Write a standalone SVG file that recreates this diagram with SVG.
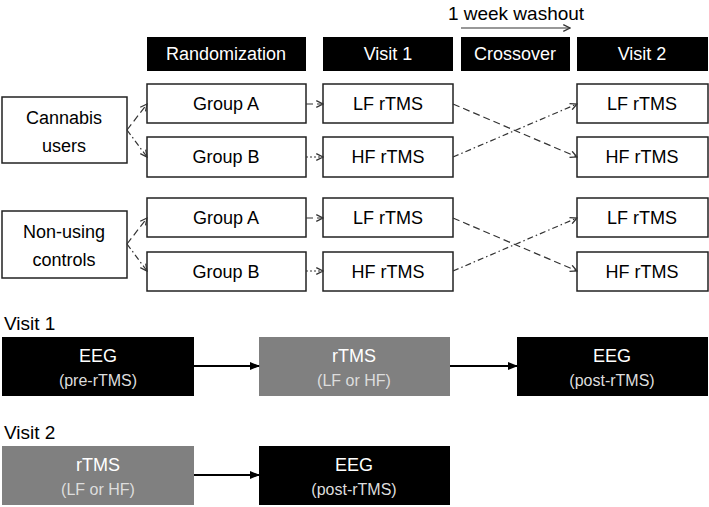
<svg xmlns="http://www.w3.org/2000/svg" width="709" height="507" viewBox="0 0 709 507">
<defs>
<style>
.b{fill:#fff;stroke:#222;stroke-width:1.5}
.h{fill:#000}
.g{fill:#808080}
text{font-family:"Liberation Sans",Arial,sans-serif;font-size:18px;text-anchor:middle}
.w{fill:#fff}
.s{fill:#ddd;font-size:16px}
.c{stroke:#333;stroke-width:1.2;fill:none}
.da{stroke-dasharray:7,4}
.dd{stroke-dasharray:6,3,1.5,3}
.dt{stroke-dasharray:2,2}
</style>
<marker id="a" viewBox="0 0 10 10" refX="9" refY="5" markerWidth="7" markerHeight="7" orient="auto"><path d="M1,1 L9,5 L1,9" fill="none" stroke="#333" stroke-width="1.5"/></marker>
<marker id="f" viewBox="0 0 10 10" refX="9" refY="5" markerWidth="5" markerHeight="5" orient="auto"><path d="M0,1 L10,5 L0,9z" fill="#000"/></marker>
</defs>
<text x="516" y="20" style="font-size:19px">1 week washout</text>
<g id="headers">
<rect class="h" x="147" y="37" width="159" height="34"/><text class="w" x="226" y="60">Randomization</text>
<rect class="h" x="323" y="37" width="130" height="34"/><text class="w" x="388" y="60">Visit 1</text>
<rect class="h" x="461" y="37" width="109" height="34"/><text class="w" x="515" y="60">Crossover</text>
<rect class="h" x="577" y="37" width="131" height="34"/><text class="w" x="642" y="60">Visit 2</text>
</g>
<g id="cannabis"><rect class="b" x="2" y="97" width="125" height="66"/><text x="64" y="124">Cannabis</text><text x="64" y="152">users</text></g>
<g id="nonusing"><rect class="b" x="2" y="211" width="125" height="67"/><text x="64" y="238">Non-using</text><text x="64" y="266">controls</text></g>
<g id="ga1"><rect class="b" x="147" y="84" width="159" height="39"/><text x="226" y="110">Group A</text></g>
<g id="gb1"><rect class="b" x="147" y="137" width="159" height="40"/><text x="226" y="163">Group B</text></g>
<g id="ga2"><rect class="b" x="147" y="198" width="159" height="39"/><text x="226" y="224">Group A</text></g>
<g id="gb2"><rect class="b" x="147" y="252" width="159" height="39"/><text x="226" y="278">Group B</text></g>
<g id="v1a"><rect class="b" x="323" y="84" width="130" height="39"/><text x="388" y="110">LF rTMS</text></g>
<g id="v1b"><rect class="b" x="323" y="137" width="130" height="40"/><text x="388" y="163">HF rTMS</text></g>
<g id="v1c"><rect class="b" x="323" y="198" width="130" height="39"/><text x="388" y="224">LF rTMS</text></g>
<g id="v1d"><rect class="b" x="323" y="252" width="130" height="39"/><text x="388" y="278">HF rTMS</text></g>
<g id="v2a"><rect class="b" x="577" y="84" width="131" height="39"/><text x="642" y="110">LF rTMS</text></g>
<g id="v2b"><rect class="b" x="577" y="137" width="131" height="40"/><text x="642" y="163">HF rTMS</text></g>
<g id="v2c"><rect class="b" x="577" y="198" width="131" height="39"/><text x="642" y="224">LF rTMS</text></g>
<g id="v2d"><rect class="b" x="577" y="252" width="131" height="39"/><text x="642" y="278">HF rTMS</text></g>
<text x="4" y="330" style="text-anchor:start;font-size:19px">Visit 1</text>
<text x="4" y="439" style="text-anchor:start;font-size:19px">Visit 2</text>
<g id="eeg1"><rect class="h" x="2" y="337" width="192" height="59"/><text class="w" x="98" y="362">EEG</text><text class="s" x="98" y="386">(pre-rTMS)</text></g>
<g id="rtms1"><rect class="g" x="259" y="337" width="191" height="59"/><text class="w" x="354" y="362">rTMS</text><text class="s" x="354" y="386">(LF or HF)</text></g>
<g id="eeg2"><rect class="h" x="517" y="337" width="191" height="59"/><text class="w" x="612" y="362">EEG</text><text class="s" x="612" y="386">(post-rTMS)</text></g>
<g id="rtms2"><rect class="g" x="2" y="446" width="192" height="59"/><text class="w" x="98" y="471">rTMS</text><text class="s" x="98" y="495">(LF or HF)</text></g>
<g id="eeg3"><rect class="h" x="259" y="446" width="191" height="59"/><text class="w" x="354" y="471">EEG</text><text class="s" x="354" y="495">(post-rTMS)</text></g>
<g id="connectors">
<path class="c" d="M461,28 H570" marker-end="url(#a)"/>
<path class="c da" d="M127,130 L147,104" marker-end="url(#a)"/>
<path class="c dd" d="M127,130 L147,157" marker-end="url(#a)"/>
<path class="c da" d="M127,244 L147,218" marker-end="url(#a)"/>
<path class="c dd" d="M127,244 L147,271" marker-end="url(#a)"/>
<path class="c da" d="M306,104 H323" marker-end="url(#a)"/>
<path class="c dt" d="M306,157 H323" marker-end="url(#a)"/>
<path class="c da" d="M306,218 H323" marker-end="url(#a)"/>
<path class="c dt" d="M306,271 H323" marker-end="url(#a)"/>
<path class="c da" d="M453,104 L577,157" marker-end="url(#a)"/>
<path class="c dd" d="M453,157 L577,104" marker-end="url(#a)"/>
<path class="c da" d="M453,218 L577,271" marker-end="url(#a)"/>
<path class="c dd" d="M453,271 L577,218" marker-end="url(#a)"/>
<path stroke="#000" stroke-width="2" d="M194,366 H259" marker-end="url(#f)"/>
<path stroke="#000" stroke-width="2" d="M450,366 H517" marker-end="url(#f)"/>
<path stroke="#000" stroke-width="2" d="M194,475 H259" marker-end="url(#f)"/>
</g>
</svg>
